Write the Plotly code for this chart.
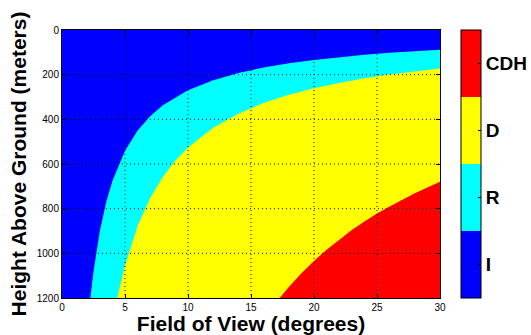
import plotly.graph_objects as go

# ---- data ----
fov_range = [0, 30]            # degrees
height_range = [0, 1200]       # meters

x_ticks = [0, 5, 10, 15, 20, 25, 30]
y_ticks = [0, 200, 400, 600, 800, 1000, 1200]

# boundary I / R  (fov in degrees, height in meters)
ir_fov = [2.25, 2.5, 3, 3.5, 4, 5, 6, 7, 8, 10, 12, 14, 16, 18, 20, 22, 24, 26, 28, 30]
ir_h = [1200, 1082, 901, 772, 676, 541, 450, 386, 337, 270, 225, 192, 168, 149, 134, 121, 111, 102, 95, 88]

# boundary R / D
rd_fov = [4.38, 5, 6, 7, 8, 9, 10, 12, 14, 16, 18, 20, 22, 24, 26, 28, 30]
rd_h = [1200, 1054, 878, 752, 658, 584, 526, 438, 375, 327, 290, 261, 237, 216, 199, 184, 172]

# boundary D / CDH
dc_fov = [17.28, 18, 19, 20, 21, 22, 23, 24, 25, 26, 27, 28, 29, 30]
dc_h = [1200, 1151, 1089, 1034, 984, 938, 896, 858, 822, 790, 759, 731, 705, 680]

class_labels = ["I", "R", "D", "CDH"]
class_colors = ["#0000FF", "#00FFFF", "#FFFF00", "#FF0000"]

FONT = "Liberation Sans, Arial, Helvetica, sans-serif"

fig = go.Figure()

# filled regions: each region lies beyond its boundary, out to the far corner
for bx, by, col in [(ir_fov, ir_h, class_colors[1]),
                    (rd_fov, rd_h, class_colors[2]),
                    (dc_fov, dc_h, class_colors[3])]:
    xs = list(bx) + [fov_range[1]]
    ys = list(by) + [height_range[1]]
    fig.add_trace(go.Scatter(x=xs, y=ys, fill="toself", fillcolor=col,
                             mode="lines", line=dict(width=0, color=col),
                             hoverinfo="skip", showlegend=False))

# discrete colorbar holder
n = len(class_labels)
cscale = []
for i, c in enumerate(class_colors):
    cscale.append([i / n, c])
    cscale.append([(i + 1) / n, c])
fig.add_trace(go.Scatter(
    x=[fov_range[0]] * n, y=[height_range[0]] * n, mode="markers",
    marker=dict(color=list(range(n)), colorscale=cscale, cmin=-0.5, cmax=n - 0.5,
                opacity=0, size=1, showscale=True,
                colorbar=dict(
                    tickmode="array", tickvals=list(range(n)),
                    ticktext=[f"<b>{t}</b>" for t in class_labels],
                    tickfont=dict(family=FONT, size=19, color="black"),
                    ticks="inside", ticklen=3, tickcolor="black",
                    thickness=20, outlinewidth=1, outlinecolor="black",
                    x=1.055, xanchor="left", xpad=0,
                    y=0.5, yanchor="middle", len=1, ypad=0,
                )),
    hoverinfo="skip", showlegend=False))

# dotted grid drawn above the coloured regions
shapes = []
for xv in x_ticks[1:-1]:
    shapes.append(dict(type="line", xref="x", yref="y", x0=xv, x1=xv,
                       y0=height_range[0], y1=height_range[1], layer="above",
                       line=dict(color="black", width=1, dash="1px,3px")))
for yv in y_ticks[1:-1]:
    shapes.append(dict(type="line", xref="x", yref="y", y0=yv, y1=yv,
                       x0=fov_range[0], x1=fov_range[1], layer="above",
                       line=dict(color="black", width=1, dash="1px,3px")))

fig.update_layout(
    width=531, height=335,
    margin=dict(l=62, r=91, t=30, b=37, autoexpand=False),
    paper_bgcolor="white", plot_bgcolor=class_colors[0],
    font=dict(family=FONT, color="black"),
    shapes=shapes,
    xaxis=dict(range=fov_range, tickvals=x_ticks, showgrid=False, zeroline=False,
               automargin=False,
               showline=True, linecolor="black", linewidth=1, mirror="ticks",
               ticks="inside", ticklen=4, tickcolor="black",
               tickfont=dict(family=FONT, size=10, color="black"),
               title=dict(text="<b>Field of View (degrees)</b>",
                          font=dict(family=FONT, size=21, color="black"),
                          standoff=10)),
    yaxis=dict(range=height_range[::-1], tickvals=y_ticks, showgrid=False, zeroline=False,
               automargin=False,
               showline=True, linecolor="black", linewidth=1, mirror="ticks",
               ticks="inside", ticklen=4, tickcolor="black",
               tickfont=dict(family=FONT, size=10, color="black"),
               title=dict(text="<b>Height Above Ground (meters)</b>",
                          font=dict(family=FONT, size=21, color="black"),
                          standoff=4)),
)

fig.write_html("out.html",
               config={"displayModeBar": False},
               post_script="document.body.style.margin='0';document.body.style.padding='0';")
